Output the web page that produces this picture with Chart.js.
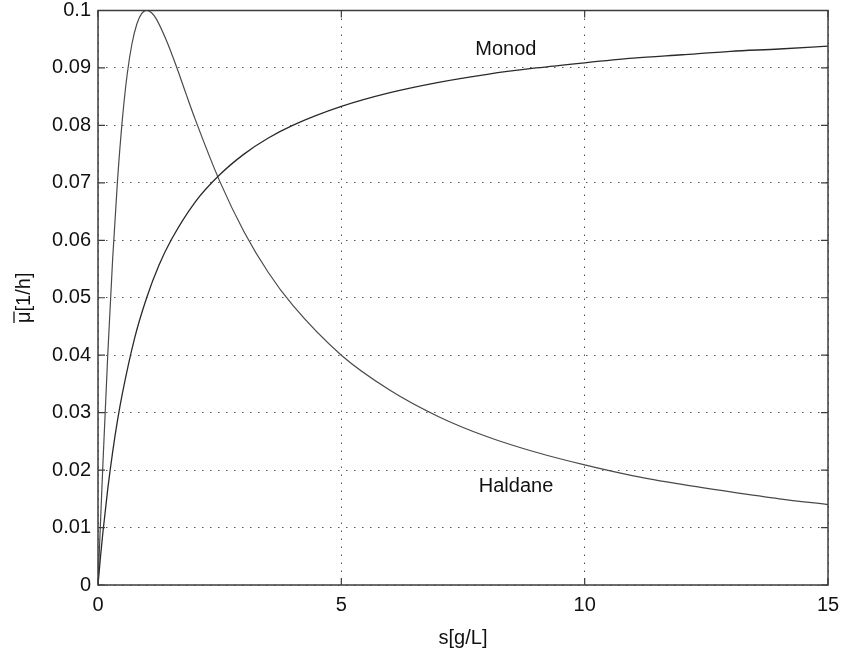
<!DOCTYPE html>
<html>
<head>
<meta charset="utf-8">
<script src="https://cdn.jsdelivr.net/npm/chart.js@4.4.1/dist/chart.umd.min.js"></script>
<style>
  html, body { margin: 0; padding: 0; background: #fff; }
  #wrap { width: 843px; height: 651px; }
</style>
</head>
<body>
<div id="wrap"><canvas id="chart" width="843" height="651"></canvas></div>
<script>
// substrate concentration s [g/L] and specific growth rate [1/h]
const monodS = [0, 0.05, 0.1, 0.2, 0.3, 0.4, 0.5, 0.75, 1, 1.25, 1.5, 2, 2.5, 3, 3.5, 4, 5, 6, 7, 8, 9, 10, 11, 12, 13, 14, 15]
const monodMu = [0, 0.0048, 0.0091, 0.0167, 0.0231, 0.0286, 0.0333, 0.0429, 0.05, 0.0556, 0.06, 0.0667, 0.0714, 0.075, 0.0778, 0.08, 0.0833, 0.0857, 0.0875, 0.0889, 0.09, 0.0909, 0.0917, 0.0923, 0.0929, 0.0933, 0.0938]

const haldaneS = [0, 0.05, 0.1, 0.2, 0.3, 0.4, 0.5, 0.6, 0.7, 0.8, 0.9, 1, 1.1, 1.2, 1.4, 1.6, 1.8, 2, 2.5, 3, 3.5, 4, 5, 6, 7, 8, 9, 10, 11, 12, 13, 14, 15]
const haldaneMu = [0, 0.0106, 0.0209, 0.04, 0.0566, 0.0703, 0.081, 0.0889, 0.0943, 0.0977, 0.0995, 0.1, 0.0996, 0.0985, 0.0949, 0.0905, 0.0857, 0.081, 0.0703, 0.0615, 0.0544, 0.0487, 0.04, 0.0339, 0.0293, 0.0258, 0.0231, 0.0209, 0.019, 0.0175, 0.0162, 0.015, 0.014]

const xTicks = [0, 5, 10, 15]
const yTicks = [0, 0.01, 0.02, 0.03, 0.04, 0.05, 0.06, 0.07, 0.08, 0.09, 0.1]

// curve labels placed in data coordinates
const curveLabels = [
  { text: 'Monod', s: 8.38, mu: 0.0933 },
  { text: 'Haldane', s: 8.59, mu: 0.0171 }
]

const FONT = "'Liberation Sans', Arial, Helvetica, sans-serif"
const AXIS = '#3c3c3c'

const toPoints = (xs, ys) => xs.map((x, i) => ({ x: x, y: ys[i] }))

// MATLAB style box with inward ticks, curve labels and the mu-bar axis label
const boxPlugin = {
  id: 'box',
  afterDatasetsDraw(chart) {
    const { ctx, chartArea: a, scales: { x, y } } = chart
    ctx.save()
    ctx.strokeStyle = AXIS
    ctx.lineWidth = 1.5
    ctx.strokeRect(a.left, a.top, a.right - a.left, a.bottom - a.top)
    ctx.lineWidth = 1.2
    ctx.beginPath()
    const len = 7
    xTicks.forEach(t => {
      const px = x.getPixelForValue(t)
      ctx.moveTo(px, a.bottom); ctx.lineTo(px, a.bottom - len)
      ctx.moveTo(px, a.top); ctx.lineTo(px, a.top + len)
    })
    yTicks.forEach(t => {
      const py = y.getPixelForValue(t)
      ctx.moveTo(a.left, py); ctx.lineTo(a.left + len, py)
      ctx.moveTo(a.right, py); ctx.lineTo(a.right - len, py)
    })
    ctx.stroke()

    ctx.fillStyle = '#111'
    ctx.font = '20px ' + FONT
    ctx.textAlign = 'center'
    ctx.textBaseline = 'middle'
    curveLabels.forEach(l => {
      ctx.fillText(l.text, x.getPixelForValue(l.s), y.getPixelForValue(l.mu))
    })

    // y axis title, rotated, with a bar over the mu
    const label = '\u03BC[1/h]'
    ctx.translate(23, (a.top + a.bottom) / 2)
    ctx.rotate(-Math.PI / 2)
    ctx.textAlign = 'left'
    ctx.textBaseline = 'alphabetic'
    const w = ctx.measureText(label).width
    const muW = ctx.measureText('\u03BC').width
    ctx.fillText(label, -w / 2, 7)
    ctx.strokeStyle = '#111'
    ctx.lineWidth = 1.3
    ctx.beginPath()
    ctx.moveTo(-w / 2, -9)
    ctx.lineTo(-w / 2 + muW, -9)
    ctx.stroke()
    ctx.restore()
  }
}

new Chart(document.getElementById('chart'), {
  type: 'line',
  data: {
    datasets: [
      {
        label: 'Monod',
        data: toPoints(monodS, monodMu),
        borderColor: '#2a2a2a',
        borderWidth: 1.3,
        pointRadius: 0,
        cubicInterpolationMode: 'monotone'
      },
      {
        label: 'Haldane',
        data: toPoints(haldaneS, haldaneMu),
        borderColor: '#4a4a4a',
        borderWidth: 1.2,
        pointRadius: 0,
        cubicInterpolationMode: 'monotone'
      }
    ]
  },
  options: {
    responsive: false,
    animation: false,
    layout: { padding: { left: 0, right: 15, top: 10.5, bottom: 0 } },
    plugins: {
      legend: { display: false },
      tooltip: { enabled: false }
    },
    scales: {
      x: {
        type: 'linear',
        min: 0,
        max: 15,
        afterBuildTicks: s => { s.ticks = xTicks.map(v => ({ value: v })) },
        afterFit: s => { s.height = 66; s.paddingLeft = 0; s.paddingRight = 0 },
        grid: { color: '#555', lineWidth: 1, drawTicks: false },
        border: { display: false, dash: [1.5, 6.5] },
        ticks: {
          color: '#111',
          padding: 8,
          maxRotation: 0,
          font: { family: FONT, size: 20 }
        },
        title: {
          display: true,
          text: 's[g/L]',
          color: '#111',
          padding: { top: 0, bottom: 1 },
          font: { family: FONT, size: 20 }
        }
      },
      y: {
        type: 'linear',
        min: 0,
        max: 0.1,
        afterBuildTicks: s => { s.ticks = yTicks.map(v => ({ value: v })) },
        afterFit: s => { s.width = 98; s.paddingTop = 0; s.paddingBottom = 0 },
        grid: { color: '#555', lineWidth: 1, drawTicks: false },
        border: { display: false, dash: [1.5, 6.5] },
        ticks: {
          color: '#111',
          padding: 7,
          font: { family: FONT, size: 20 },
          callback: v => String(Number(v.toFixed(2)))
        }
      }
    }
  },
  plugins: [boxPlugin]
})
</script>
</body>
</html>
